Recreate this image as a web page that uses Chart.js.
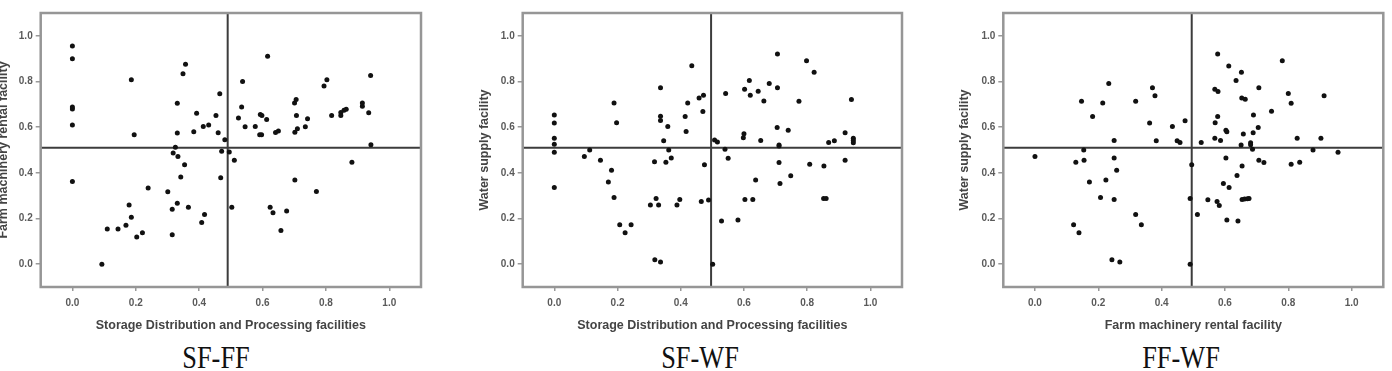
<!DOCTYPE html>
<html>
<head>
<meta charset="utf-8">
<script src="https://cdn.jsdelivr.net/npm/chart.js@4"></script>
<style>
  html, body { margin: 0; padding: 0; background: #fff; }
  body { width: 1392px; height: 371px; position: relative; overflow: hidden; }
  canvas.panel { position: absolute; top: 0; }
  .cap {
    position: absolute; top: 342px; line-height: 1;
    font-family: "Liberation Serif", "Times New Roman", serif; font-size: 31px; color: #111;
    transform: translateX(-50%) scaleX(0.85); white-space: nowrap;
  }
</style>
</head>
<body>
<canvas id="c1" class="panel"></canvas>
<canvas id="c2" class="panel"></canvas>
<canvas id="c3" class="panel"></canvas>
<div class="cap" style="left:216px">SF-FF</div>
<div class="cap" style="left:700px">SF-WF</div>
<div class="cap" style="left:1181px">FF-WF</div>
<script>
// axis range and tick labels (same for every panel)
const axisMin = -0.1;
const axisMax = 1.1;
const tickValues = [0, 0.2, 0.4, 0.6, 0.8, 1.0];

const panelNames = ["SF-FF", "SF-WF", "FF-WF"];
const xTitles = ["Storage Distribution and Processing facilities", "Storage Distribution and Processing facilities", "Farm machinery rental facility"];
const yTitles = ["Farm machinery rental facility", "Water supply facility", "Water supply facility"];

// quadrant lines [x, y] for each panel
const sfffCut = [0.49, 0.51];
const sfwfCut = [0.496, 0.51];
const ffwfCut = [0.495, 0.51];

// [x, y] points
const sfffPoints = [
  [0, 0.956], [0, 0.90], [0, 0.688], [0, 0.68], [0, 0.61], [0, 0.362],
  [0.186, 0.808], [0.195, 0.567], [0.349, 0.834], [0.357, 0.876], [0.331, 0.705], [0.331, 0.574],
  [0.392, 0.661], [0.383, 0.58], [0.413, 0.603], [0.43, 0.609], [0.453, 0.651], [0.465, 0.746],
  [0.46, 0.576], [0.481, 0.545], [0.325, 0.512], [0.318, 0.487], [0.333, 0.472], [0.354, 0.435],
  [0.342, 0.382], [0.471, 0.494], [0.495, 0.491], [0.511, 0.455], [0.468, 0.379], [0.503, 0.249],
  [0.239, 0.334], [0.301, 0.317], [0.179, 0.259], [0.186, 0.205], [0.169, 0.17], [0.144, 0.154],
  [0.11, 0.154], [0.203, 0.119], [0.221, 0.138], [0.315, 0.24], [0.331, 0.267], [0.366, 0.249],
  [0.315, 0.129], [0.408, 0.182], [0.417, 0.217], [0.093, 0.0], [0.537, 0.8], [0.534, 0.688],
  [0.524, 0.64], [0.545, 0.602],
  [0.616, 0.911], [0.577, 0.603], [0.591, 0.567], [0.597, 0.567], [0.593, 0.656], [0.598, 0.651],
  [0.613, 0.634], [0.641, 0.577], [0.65, 0.583], [0.701, 0.706], [0.706, 0.721], [0.707, 0.651],
  [0.702, 0.578], [0.71, 0.593], [0.735, 0.602], [0.742, 0.637], [0.794, 0.78], [0.803, 0.808],
  [0.818, 0.651], [0.847, 0.664], [0.847, 0.651], [0.857, 0.674], [0.864, 0.679], [0.915, 0.706],
  [0.915, 0.692], [0.935, 0.663], [0.941, 0.826], [0.942, 0.523], [0.882, 0.446], [0.702, 0.369],
  [0.77, 0.318], [0.624, 0.249], [0.633, 0.225], [0.676, 0.233], [0.658, 0.147]
];

const sfwfPoints = [
  [0, 0.653], [0, 0.618], [0, 0.552], [0, 0.525], [0, 0.49], [0, 0.336],
  [0.095, 0.472], [0.112, 0.5], [0.146, 0.455], [0.181, 0.411], [0.171, 0.36], [0.189, 0.292],
  [0.189, 0.706], [0.197, 0.619], [0.207, 0.173], [0.224, 0.138], [0.243, 0.173], [0.304, 0.259],
  [0.317, 0.448], [0.322, 0.288], [0.33, 0.259], [0.318, 0.019], [0.336, 0.01], [0.336, 0.773],
  [0.336, 0.648], [0.336, 0.629], [0.346, 0.541], [0.359, 0.603], [0.353, 0.446], [0.362, 0.5],
  [0.37, 0.465], [0.388, 0.259], [0.397, 0.283], [0.414, 0.647], [0.417, 0.581], [0.422, 0.706],
  [0.435, 0.869], [0.458, 0.728], [0.472, 0.74], [0.47, 0.669], [0.475, 0.435], [0.465, 0.275],
  [0.488, 0.281],
  [0.501, 0.0], [0.542, 0.747], [0.507, 0.544], [0.516, 0.535], [0.54, 0.503], [0.55, 0.464],
  [0.637, 0.369], [0.603, 0.283], [0.628, 0.283], [0.529, 0.189], [0.581, 0.193], [0.602, 0.766],
  [0.617, 0.804], [0.62, 0.74], [0.645, 0.757], [0.663, 0.715], [0.68, 0.791], [0.706, 0.92],
  [0.706, 0.773], [0.598, 0.554], [0.6, 0.571], [0.653, 0.542], [0.705, 0.599], [0.74, 0.586],
  [0.711, 0.522], [0.711, 0.517], [0.711, 0.445], [0.714, 0.353], [0.748, 0.387], [0.774, 0.714],
  [0.798, 0.891], [0.822, 0.84], [0.808, 0.438], [0.853, 0.43], [0.852, 0.288], [0.86, 0.288],
  [0.868, 0.533], [0.886, 0.541], [0.92, 0.576], [0.92, 0.455], [0.94, 0.721], [0.946, 0.552],
  [0.946, 0.542], [0.946, 0.532]
];

const ffwfPoints = [
  [0, 0.472], [0.129, 0.446], [0.122, 0.173], [0.139, 0.138], [0.147, 0.714], [0.154, 0.5],
  [0.155, 0.455], [0.182, 0.647], [0.172, 0.36], [0.214, 0.706], [0.233, 0.791], [0.25, 0.542],
  [0.207, 0.292], [0.224, 0.369], [0.25, 0.465], [0.258, 0.411], [0.25, 0.283], [0.243, 0.019],
  [0.268, 0.01], [0.318, 0.714], [0.318, 0.217], [0.336, 0.173], [0.371, 0.773], [0.379, 0.738],
  [0.362, 0.618], [0.383, 0.541],
  [0.434, 0.603], [0.474, 0.628], [0.449, 0.541], [0.458, 0.533], [0.495, 0.435], [0.49, 0.288],
  [0.513, 0.218], [0.49, 0.0], [0.525, 0.533], [0.577, 0.92], [0.612, 0.868], [0.652, 0.84],
  [0.635, 0.804], [0.568, 0.766], [0.578, 0.756], [0.653, 0.728], [0.664, 0.722], [0.707, 0.773],
  [0.577, 0.647], [0.569, 0.619], [0.568, 0.551], [0.586, 0.542], [0.603, 0.587], [0.606, 0.58],
  [0.658, 0.57], [0.69, 0.653], [0.689, 0.576], [0.705, 0.599], [0.747, 0.67], [0.651, 0.522],
  [0.681, 0.532], [0.681, 0.523], [0.687, 0.503], [0.603, 0.465], [0.654, 0.43], [0.707, 0.455],
  [0.723, 0.445], [0.638, 0.388], [0.595, 0.353], [0.613, 0.336], [0.546, 0.282], [0.575, 0.275],
  [0.582, 0.257], [0.654, 0.283], [0.662, 0.285], [0.671, 0.286], [0.676, 0.288], [0.606, 0.193],
  [0.641, 0.189], [0.781, 0.891], [0.8, 0.747], [0.809, 0.705], [0.913, 0.738], [0.828, 0.552],
  [0.903, 0.552], [0.878, 0.5], [0.957, 0.49], [0.809, 0.438], [0.836, 0.446]
];

const sansFont = '"Liberation Sans", Arial, sans-serif';

// grey box round the plot area
const framePlugin = {
  id: 'frame',
  afterDatasetsDraw(chart) {
    const { ctx, chartArea: a } = chart;
    ctx.save();
    ctx.strokeStyle = '#969696';
    ctx.lineWidth = 2.5;
    ctx.strokeRect(a.left, a.top, a.right - a.left, a.bottom - a.top);
    ctx.restore();
  }
};

function makePanel(id, left, width, yWidth, yTitlePad, padRight, points, cut, xTitle, yTitle) {
  const canvas = document.getElementById(id);
  canvas.width = width;
  canvas.height = 340;
  canvas.style.left = left + 'px';
  canvas.style.width = width + 'px';
  canvas.style.height = '340px';

  const lineStyle = { type: 'line', borderColor: '#3c3c3c', borderWidth: 2, pointRadius: 0, fill: false, tension: 0 };

  return new Chart(canvas.getContext('2d'), {
    type: 'scatter',
    data: {
      datasets: [
        {
          data: points.map(p => ({ x: p[0], y: p[1] })),
          pointRadius: 2.5,
          pointHoverRadius: 2.5,
          backgroundColor: '#111',
          borderWidth: 0
        },
        Object.assign({ data: [{ x: cut[0], y: axisMin }, { x: cut[0], y: axisMax }] }, lineStyle),
        Object.assign({ data: [{ x: axisMin, y: cut[1] }, { x: axisMax, y: cut[1] }] }, lineStyle)
      ]
    },
    options: {
      responsive: false,
      animation: false,
      events: [],
      layout: { padding: { left: 0, top: 13, right: padRight, bottom: 0 } },
      plugins: { legend: { display: false }, tooltip: { enabled: false } },
      scales: {
        x: {
          type: 'linear',
          min: axisMin,
          max: axisMax,
          afterBuildTicks: s => { s.ticks = tickValues.map(v => ({ value: v })); },
          afterFit: s => { s.height = 53; },
          border: { display: false },
          grid: { drawOnChartArea: false, drawTicks: true, tickLength: 4, color: '#999', lineWidth: 1.5 },
          ticks: {
            callback: v => v.toFixed(1),
            font: { family: sansFont, size: 10, weight: 'bold' },
            color: '#5a5a5a', padding: 6, maxRotation: 0, autoSkip: false
          },
          title: {
            display: true, text: xTitle, color: '#444',
            font: { family: sansFont, size: 12.5, weight: 'bold' },
            padding: { top: 0, bottom: 6.5 }
          }
        },
        y: {
          type: 'linear',
          min: axisMin,
          max: axisMax,
          afterBuildTicks: s => { s.ticks = tickValues.map(v => ({ value: v })); },
          afterFit: s => { s.width = yWidth; },
          border: { display: false },
          grid: { drawOnChartArea: false, drawTicks: true, tickLength: 5, color: '#999', lineWidth: 1.5 },
          ticks: {
            callback: v => v.toFixed(1),
            font: { family: sansFont, size: 10, weight: 'bold' },
            color: '#5a5a5a', padding: 3
          },
          title: {
            display: true, text: yTitle, color: '#444',
            font: { family: sansFont, size: 12.5, weight: 'bold' },
            padding: { top: yTitlePad, bottom: 0 }
          }
        }
      }
    },
    plugins: [framePlugin]
  });
}

makePanel('c1', -4, 440, 44.7, 0, 15, sfffPoints, sfffCut, xTitles[0], yTitles[0]);
makePanel('c2', 470, 445, 52.7, 7.5, 13, sfwfPoints, sfwfCut, xTitles[1], yTitles[1]);
makePanel('c3', 950, 442, 53.3, 7.5, 8.7, ffwfPoints, ffwfCut, xTitles[2], yTitles[2]);
</script>
</body>
</html>
